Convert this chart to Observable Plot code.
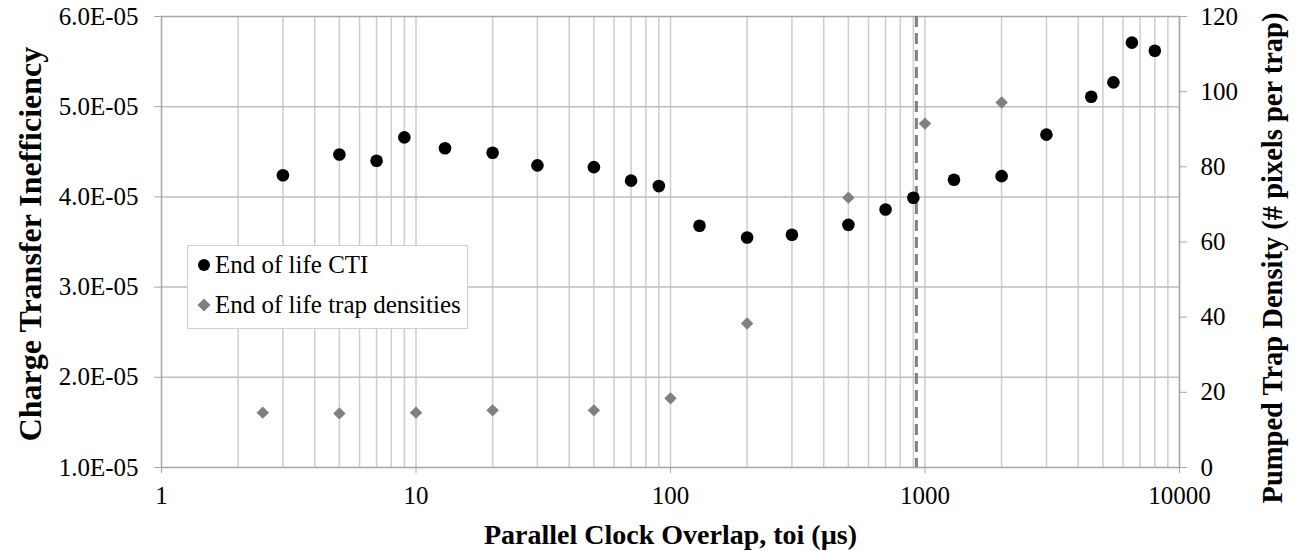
<!DOCTYPE html>
<html><head><meta charset="utf-8">
<script src="https://cdn.jsdelivr.net/npm/d3@7"></script>
<script src="https://cdn.jsdelivr.net/npm/@observablehq/plot@0.6"></script>
<style>
body{margin:0;background:#fff;}
#wrap{position:relative;width:1299px;height:551px;overflow:hidden;}
</style></head><body><div id="wrap"></div>
<script>
// ---- data ----
const ctiX = [3,5,7,9,13,20,30,50,70,90,130,200,300,500,700,900,1300,2000,3000,4500,5500,6500,8000];
const ctiY = [4.24e-5,4.47e-5,4.40e-5,4.66e-5,4.54e-5,4.49e-5,4.35e-5,4.33e-5,4.18e-5,4.12e-5,3.68e-5,3.55e-5,3.58e-5,3.69e-5,3.86e-5,3.99e-5,4.19e-5,4.23e-5,4.69e-5,5.11e-5,5.27e-5,5.71e-5,5.62e-5];
const trapX = [2.5,5,10,20,50,100,200,500,1000,2000];
const trapY = [14.6,14.4,14.6,15.2,15.2,18.4,38.3,71.8,91.5,97.1];
const leftTicks = [1e-5,2e-5,3e-5,4e-5,5e-5,6e-5];
const rightTicks = [0,20,40,60,80,100,120];
const xTicks = [1,10,100,1000,10000];
const dashedX = [925];
const seriesNames = ["End of life CTI","End of life trap densities"];
const xTitle = "Parallel Clock Overlap, toi (µs)";
const yLeftTitle = "Charge Transfer Inefficiency";
const yRightTitle = "Pumped Trap Density (# pixels per trap)";

// right axis (0..120) mapped onto the left domain (1e-5..6e-5)
const L0 = 1e-5, L1 = 6e-5, R0 = 0, R1 = 120;
const toLeft = r => L0 + (r - R0) / (R1 - R0) * (L1 - L0);
const fromLeft = v => R0 + (v - L0) / (L1 - L0) * (R1 - R0);

const cti = ctiX.map((x, i) => ({x, y: ctiY[i]}));
const trap = trapX.map((x, i) => ({x, y: toLeft(trapY[i])}));

const gridX = [];
for (let k = 0; k < 4; k++) for (let m = 2; m <= 10; m++) gridX.push(m * 10 ** k);
const gridY = leftTicks.slice(1, -1);

const fmtE = d => {
  const [m, e] = d.toExponential(1).split("e");
  const n = +e;
  return m + "E" + (n < 0 ? "-" : "+") + String(Math.abs(n)).padStart(2, "0");
};

const serif = "'Liberation Serif','Times New Roman',serif";
const axisGray = "#a6a6a6";

const chart = Plot.plot({
  width: 1299,
  height: 551,
  marginLeft: 161,
  marginRight: 120,
  marginTop: 16,
  marginBottom: 84,
  style: {fontFamily: serif, fontSize: "25px", color: "#000", background: "#fff", overflow: "visible"},
  x: {type: "log", domain: [1, 10000]},
  y: {domain: [L0, L1]},
  marks: [
    Plot.ruleX(gridX, {stroke: "#cdcdcd", strokeWidth: 1.5}),
    Plot.ruleY(gridY, {stroke: "#bdbdbd", strokeWidth: 1.5}),
    Plot.ruleY([L1, L0], {stroke: axisGray, strokeWidth: 1.5}),
    Plot.ruleX([1, 10000], {stroke: axisGray, strokeWidth: 1.5}),
    Plot.ruleX(dashedX, {stroke: "#808080", strokeWidth: 3, strokeDasharray: "11,6"}),
    Plot.dot(trap, {x: "x", y: "y", symbol: "diamond2", r: 5.6, fill: "#808080", stroke: "none"}),
    Plot.dot(cti, {x: "x", y: "y", r: 6.3, fill: "#000", stroke: "none"}),
    Plot.axisX(xTicks, {anchor: "bottom", tickSize: 6, tickPadding: 13, tickFormat: d => String(d), stroke: axisGray, fill: "#000", label: null}),
    Plot.axisY(leftTicks, {anchor: "left", tickSize: 7, tickPadding: 16, tickFormat: fmtE, stroke: axisGray, fill: "#000", label: null}),
    Plot.axisY(rightTicks.map(toLeft), {anchor: "right", tickSize: 7, tickPadding: 14, tickFormat: v => String(Math.round(fromLeft(v))), stroke: axisGray, fill: "#000", label: null}),
    Plot.text([xTitle], {text: d => d, frameAnchor: "bottom", textAnchor: "middle", lineAnchor: "middle", dy: 68, fontWeight: "bold", fontSize: 28, fill: "#000"}),
    Plot.text([yLeftTitle], {text: d => d, frameAnchor: "left", textAnchor: "middle", lineAnchor: "middle", dx: -131, dy: 2, rotate: -90, fontWeight: "bold", fontSize: 32, fill: "#000"}),
    Plot.text([yRightTitle], {text: d => d, frameAnchor: "right", textAnchor: "middle", lineAnchor: "middle", dx: 93, dy: 16, rotate: -90, fontWeight: "bold", fontSize: 28.5, fill: "#000"})
  ]
});

const wrap = document.getElementById("wrap");
wrap.appendChild(chart);

// legend
const legend = document.createElement("div");
Object.assign(legend.style, {
  position: "absolute", left: "187px", top: "245px", width: "281px", height: "84px",
  border: "1px solid #d0d0d0", background: "#fff", boxSizing: "border-box",
  fontFamily: serif, fontSize: "25px", color: "#000"
});
const markers = [
  `<svg width="14" height="14" viewBox="-7 -7 14 14" style="position:absolute;left:9px;top:8px"><circle r="6" fill="#000"/></svg>`,
  `<svg width="14" height="14" viewBox="-7 -7 14 14" style="position:absolute;left:9px;top:8px"><path d="M0,-6.5L6.5,0L0,6.5L-6.5,0Z" fill="#808080"/></svg>`
];
seriesNames.forEach((name, i) => {
  const row = document.createElement("div");
  Object.assign(row.style, {position: "absolute", left: "0", top: (4 + i * 40) + "px", height: "30px", width: "100%", lineHeight: "30px", whiteSpace: "nowrap"});
  row.innerHTML = markers[i] + `<span style="position:absolute;left:27px;top:0;font-family:${serif.replace(/'/g, "&quot;")};font-size:25px">${name}</span>`;
  legend.appendChild(row);
});
wrap.appendChild(legend);
</script>
</body></html>
